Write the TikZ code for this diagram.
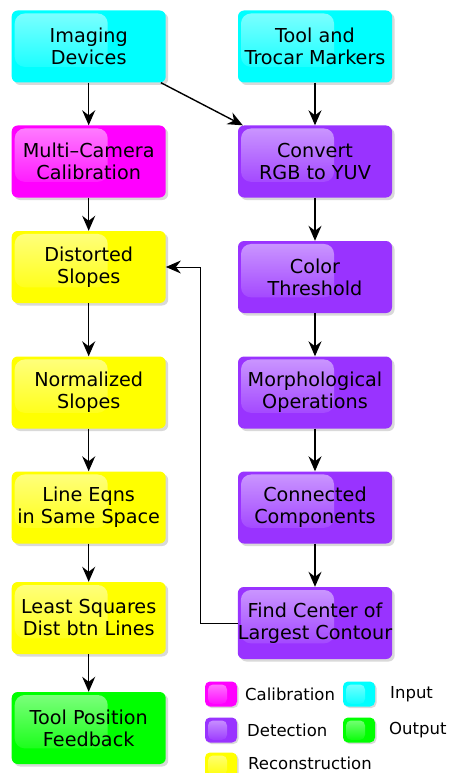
\documentclass[tikz,border=0pt]{standalone}
\usepackage{fontspec}
\setmainfont{DejaVu Sans}
\usetikzlibrary{arrows.meta,shadows,fadings}

\definecolor{calib}{HTML}{FF00FF}
\definecolor{inp}{HTML}{00FFFF}
\definecolor{detect}{HTML}{9933FF}
\definecolor{recon}{HTML}{FFFF00}
\definecolor{outp}{HTML}{00FF00}

\begin{document}
\begin{tikzpicture}[x=1pt,y=-1pt,
  gloss/.style 2 args={path picture={\fill[white,fill opacity=0.5,path fading=south,rounded corners=#2]
    ([shift={(3pt,-3pt)}]path picture bounding box.north west) rectangle
    ([shift={(-#1,#1*0.27)}]path picture bounding box.south east);}},
  box/.style={fill=#1, rounded corners=6pt, minimum width=154pt, minimum height=72pt,
    inner xsep=0pt, align=center, font=\fontsize{19.2}{22}\selectfont, gloss={58pt}{10pt},
    drop shadow={shadow xshift=2.5pt,shadow yshift=-2.5pt,opacity=0.3}},
  swatch/.style={fill=#1, rounded corners=5pt, minimum width=32pt, minimum height=25pt,
    inner sep=0pt, gloss={10pt}{5pt},
    drop shadow={shadow xshift=1.5pt,shadow yshift=-1.5pt,opacity=0.3}},
  lbl/.style={anchor=west, inner sep=0pt, font=\fontsize{16.5}{20}\selectfont},
  arr/.style={line width=1.4pt, -{Stealth[length=15pt,width=13pt,inset=5pt]}},
  fb/.style={line width=0.9pt, -{Stealth[length=15pt,width=13pt,inset=5pt]}}]

\useasboundingbox (0,0) rectangle (448,773);

% left column
\node[box=inp] (img) at (88.7,46.5) {Imaging\\Devices};
\node[box=calib] (mcc) at (88.7,161.5) {Multi--Camera\\Calibration};
\node[box=recon] (dsl) at (88.7,267) {Distorted\\Slopes};
\node[box=recon] (nsl) at (88.7,392.5) {Normalized\\Slopes};
\node[box=recon] (leq) at (88.7,507.5) {Line Eqns\\in Same Space};
\node[box=recon] (lsq) at (88.7,618) {Least Squares\\Dist btn Lines};
\node[box=outp] (tpf) at (88.7,728) {Tool Position\\Feedback};

% right column
\node[box=inp] (tool) at (315,46.5) {Tool and\\Trocar Markers};
\node[box=detect] (conv) at (315,161.5) {Convert\\RGB to YUV};
\node[box=detect] (cth) at (315,277) {Color\\Threshold};
\node[box=detect] (mop) at (315,392.5) {Morphological\\Operations};
\node[box=detect] (ccp) at (315,507.5) {Connected\\Components};
\node[box=detect] (fcl) at (315,623) {Find Center of\\Largest Contour};

\draw[arr] (img) -- (mcc);
\draw[arr] (mcc) -- (dsl);
\draw[arr] (dsl) -- (nsl);
\draw[arr] (nsl) -- (leq);
\draw[arr] (leq) -- (lsq);
\draw[arr] (lsq) -- (tpf);

\draw[arr] ([xshift=-5pt]img.south east) -- ([xshift=5pt]conv.north west);
\draw[arr] (tool) -- (conv);
\draw[arr] (conv) -- (cth);
\draw[arr] (cth) -- (mop);
\draw[arr] (mop) -- (ccp);
\draw[arr] (ccp) -- (fcl);

\draw[fb] (fcl.west) -- ++(-37.5,0) |- (dsl.east);

% legend
\node[swatch=calib] (lcal) at (221,694) {};
\node[swatch=inp] (linp) at (359,694) {};
\node[swatch=detect] (ldet) at (221,730) {};
\node[swatch=outp] (lout) at (359,730) {};
\node[swatch=recon] (lrec) at (221,765) {};
\node[lbl] (tcal) at (245,694) {Calibration};
\node[lbl] (tinp) at (390,694) {Input};
\node[lbl] (tdet) at (247,730) {Detection};
\node[lbl] (tout) at (389,730) {Output};
\node[lbl] (trec) at (248,763) {Reconstruction};
\end{tikzpicture}
\end{document}
